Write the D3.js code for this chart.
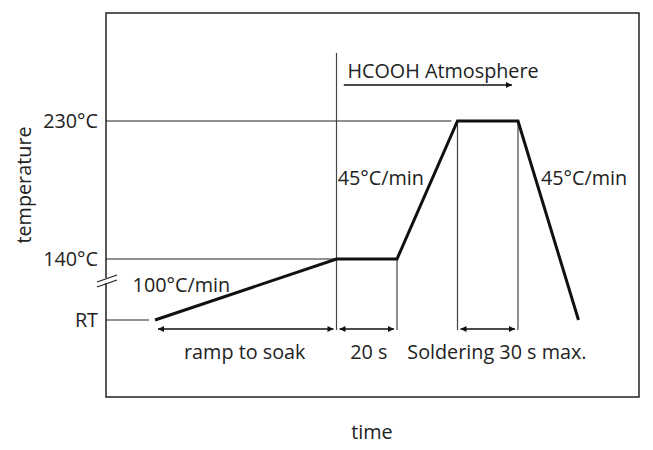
<!DOCTYPE html>
<html>
<head>
<meta charset="utf-8">
<script src="https://cdn.jsdelivr.net/npm/d3@7"></script>
<style>
  body { margin: 0; background: #fff; }
  text { font-family: "Open Sans", "Noto Sans", sans-serif; fill: #222; }
</style>
</head>
<body>
<div id="chart"></div>
<script>
// profile points: time in arbitrary units, temperature in °C (RT = 25)
const profileTime = [0, 3, 4, 5, 6, 7];
const profileTemp = [25, 140, 140, 230, 230, 25];

const tempTicks = [25, 140, 230];
const tempLabels = ["RT", "140°C", "230°C"];

// phase boundaries (double arrows under the curve)
const phaseStart = [0, 3, 5];
const phaseEnd = [3, 4, 6];
const phaseLabels = ["ramp to soak", "20 s", "Soldering 30 s max."];

const rateLabels = ["100°C/min", "45°C/min", "45°C/min"];

let width = 653, height = 450;
let margin = {top: 13, right: 14, bottom: 53, left: 106};
let fs = 19.8;

const svg = d3.select("#chart")
  .append("svg")
    .attr("width", width)
    .attr("height", height);

const defs = svg.append("defs");
defs.append("marker")
    .attr("id", "head")
    .attr("viewBox", "0 0 10 10")
    .attr("refX", 10).attr("refY", 5)
    .attr("markerWidth", 12).attr("markerHeight", 6)
    .attr("markerUnits", "userSpaceOnUse")
    .attr("orient", "auto-start-reverse")
  .append("path")
    .attr("d", "M0,0 L10,5 L0,10 z")
    .attr("fill", "#111");

// x scale: time units, y scale: piecewise (broken axis)
let x = d3.scaleLinear()
  .domain([-0.81, 8.0])
  .range([margin.left, width - margin.right]);

let y = d3.scaleLinear()
  .domain([25, 140, 230])
  .range([320, 259, 121]);

// frame
svg.append("rect")
  .attr("x", margin.left)
  .attr("y", margin.top)
  .attr("width", width - margin.left - margin.right)
  .attr("height", height - margin.top - margin.bottom)
  .attr("fill", "none")
  .attr("stroke", "#222")
  .attr("stroke-width", 1.5);

// axis break marks
svg.append("rect")
  .attr("x", margin.left - 2).attr("y", 278)
  .attr("width", 4).attr("height", 5)
  .attr("fill", "#fff");
[0, 5].forEach(function(off) {
  svg.append("line")
    .attr("x1", margin.left - 9).attr("y1", 282 + off)
    .attr("x2", margin.left + 11).attr("y2", 275 + off)
    .attr("stroke", "#222").attr("stroke-width", 1.3);
});

// temperature labels + guide lines
const guideEnd = [-0.1, 3, 4.9];
tempTicks.forEach(function(t, i) {
  svg.append("line")
    .attr("x1", margin.left).attr("x2", x(guideEnd[i]))
    .attr("y1", y(t)).attr("y2", y(t))
    .attr("stroke", "#222").attr("stroke-width", 1.2);
  svg.append("text")
    .attr("x", margin.left - 8)
    .attr("y", y(t) + 7)
    .attr("text-anchor", "end")
    .attr("font-size", fs)
    .text(tempLabels[i]);
});

// vertical markers
const vLines = [
  {t: 3, y0: 53},
  {t: 4, y0: y(140)},
  {t: 5, y0: y(230)},
  {t: 6, y0: y(230)}
];
vLines.forEach(function(v) {
  svg.append("line")
    .attr("x1", x(v.t)).attr("x2", x(v.t))
    .attr("y1", v.y0).attr("y2", 330)
    .attr("stroke", "#444").attr("stroke-width", 1.2);
});

// phase double arrows
const arrowY = 329;
phaseStart.forEach(function(s, i) {
  svg.append("line")
    .attr("x1", x(s) + 3).attr("x2", x(phaseEnd[i]) - 3)
    .attr("y1", arrowY).attr("y2", arrowY)
    .attr("stroke", "#111").attr("stroke-width", 1.5)
    .attr("marker-start", "url(#head)")
    .attr("marker-end", "url(#head)");
});

svg.append("text").attr("x", (x(0) + x(3)) / 2 - 1).attr("y", 359)
  .attr("text-anchor", "middle").attr("font-size", fs).text(phaseLabels[0]);
svg.append("text").attr("x", (x(3) + x(4)) / 2 + 2).attr("y", 359)
  .attr("text-anchor", "middle").attr("font-size", fs).text(phaseLabels[1]);
svg.append("text").attr("x", x(4.17)).attr("y", 359)
  .attr("text-anchor", "start").attr("font-size", fs).text(phaseLabels[2]);

// profile curve
const line = d3.line()
  .x(function(d, i) { return x(profileTime[i]); })
  .y(function(d) { return y(d); });

svg.append("path")
  .datum(profileTemp)
  .attr("d", line)
  .attr("fill", "none")
  .attr("stroke", "#111")
  .attr("stroke-width", 3)
  .attr("stroke-linejoin", "miter");

// rate labels
svg.append("text").attr("x", x(-0.37)).attr("y", 292)
  .attr("font-size", fs).text(rateLabels[0]);
svg.append("text").attr("x", x(3.02)).attr("y", 185)
  .attr("font-size", fs).text(rateLabels[1]);
svg.append("text").attr("x", x(6.38)).attr("y", 185)
  .attr("font-size", fs).text(rateLabels[2]);

// HCOOH atmosphere
svg.append("text").attr("x", x(3.18)).attr("y", 78)
  .attr("font-size", fs).text("HCOOH Atmosphere");
svg.append("line")
  .attr("x1", x(3.12)).attr("x2", x(5.9))
  .attr("y1", 85).attr("y2", 85)
  .attr("stroke", "#111").attr("stroke-width", 1.5)
  .attr("marker-end", "url(#head)");

// axis titles
svg.append("text")
  .attr("x", 372)
  .attr("y", 439)
  .attr("text-anchor", "middle")
  .attr("font-size", fs)
  .text("time");

svg.append("text")
  .attr("transform", "translate(31,185) rotate(-90)")
  .attr("text-anchor", "middle")
  .attr("font-size", fs)
  .text("temperature");
</script>
</body>
</html>
